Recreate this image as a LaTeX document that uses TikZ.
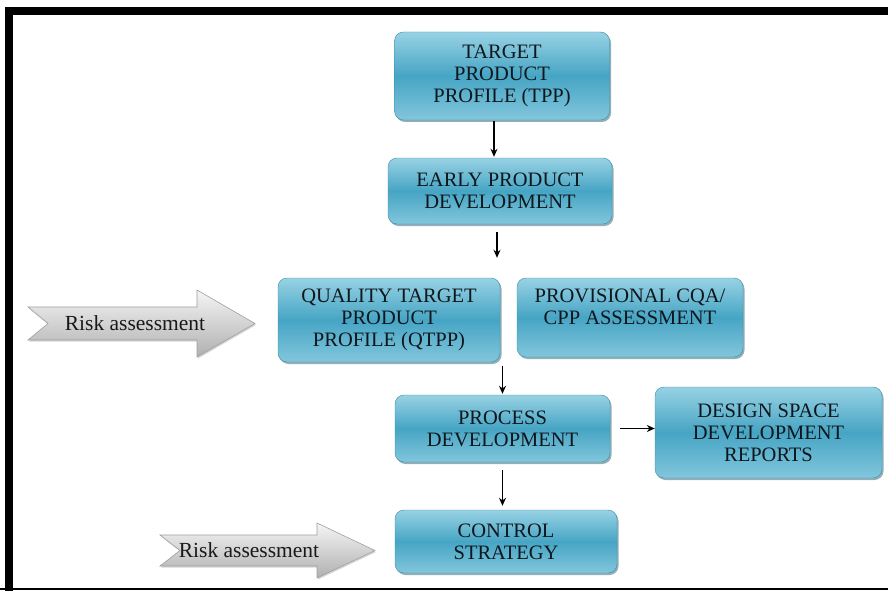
\documentclass[tikz,border=0pt]{standalone}
\usepackage{fontspec}
\setmainfont{Liberation Serif}
\usetikzlibrary{shapes,arrows.meta,positioning,shadows,calc}

\definecolor{boxtop}{RGB}{152,210,228}
\definecolor{boxmid}{RGB}{70,165,196}
\definecolor{boxbot}{RGB}{130,198,220}
\definecolor{boxedge}{RGB}{60,140,165}
\definecolor{boxshade}{RGB}{40,95,115}
\definecolor{boxtext}{RGB}{15,22,28}

\begin{document}
\begin{tikzpicture}[x=1pt,y=-1pt,
        block/.style={rectangle, draw=boxedge, rounded corners=9pt,
        top color=boxtop, bottom color=boxbot, middle color=boxmid,
        drop shadow={shadow xshift=1.5pt, shadow yshift=-2pt, fill=boxshade},
        inner sep=0pt, align=center, text=boxtext,
        font=\fontsize{20.5}{22}\selectfont},
        arrow/.style={-{Stealth[length=8pt,width=7pt]}, line width=1.3pt},
        riskshape/.style={draw=gray!75, line width=0.6pt,
        top color=gray!8, bottom color=gray!62,
        drop shadow={shadow xshift=1pt, shadow yshift=-1.5pt, fill=gray!65}},
        risktext/.style={font=\fontsize{21.5}{22}\selectfont, text=black!90}
    ]
        \useasboundingbox (0,0) rectangle (888,591);

% Frame
        \draw[line width=8pt] (9,591) -- (9,11) -- (888,11);
        \draw[line width=2pt] (0,589) -- (888,589);

% Main chain
        \node[block, minimum width=215pt, minimum height=88pt] (tpp) at (502,76)
        {TARGET\\ PRODUCT\\ PROFILE (TPP)};
        \node[block, minimum width=224pt, minimum height=66pt] (epd) at (500,191)
        {EARLY PRODUCT\\ DEVELOPMENT};
        \node[block, minimum width=222pt, minimum height=84pt] (qtpp) at (389,320)
        {QUALITY TARGET\\ PRODUCT\\ PROFILE (QTPP)};
        \node[block, minimum width=226pt, minimum height=79pt] (pcqa) at (630,317.5)
        {PROVISIONAL CQA/\\ CPP ASSESSMENT\\ \mbox{}};
        \node[block, minimum width=215pt, minimum height=67pt] (pd) at (502.5,428.5)
        {PROCESS\\ DEVELOPMENT};
        \node[block, minimum width=227pt, minimum height=91pt] (dsdr) at (768.5,432.5)
        {DESIGN SPACE\\ DEVELOPMENT\\ REPORTS};
        \node[block, minimum width=222pt, minimum height=63pt] (cs) at (506,541.5)
        {CONTROL\\ STRATEGY};

% Gap between the two boxes of the middle row
        \coordinate (rowtop) at ($(qtpp.north east)!.5!(pcqa.north west)$);
        \coordinate (rowbot) at ($(qtpp.south east)!.5!(pcqa.south west)$);

% Risk assessment arrows
        \draw[riskshape] (28,307) -- (197,307) -- (197,290) -- (255,323.5)
        -- (197,357) -- (197,340) -- (28,340) -- (48,323.5) -- cycle;
        \node[risktext] (risk1) at (135,323.5) {Risk assessment};
        \draw[riskshape] (160,535) -- (317,535) -- (317,523) -- (375,550.5)
        -- (317,578) -- (317,566) -- (160,566) -- (180,550.5) -- cycle;
        \node[risktext] (risk2) at (249,550.5) {Risk assessment};

% Arrows
        \draw[arrow, shorten <=1pt, shorten >=1pt] ([xshift=-8pt]tpp.south) -- ([xshift=-8pt]tpp.south |- epd.north);
        \draw[arrow, shorten <=8pt, shorten >=20pt] ([xshift=-3pt]epd.south) -- ([xshift=-3pt]epd.south |- rowtop);
        \draw[arrow, shorten <=6pt, shorten >=1pt] (rowbot -| pd.north) -- (pd.north);
        \draw[arrow, shorten <=10pt] (pd.east) -- (pd.east -| dsdr.west);
        \draw[arrow, shorten <=8pt, shorten >=4pt] (pd.south) -- (pd.south |- cs.north);

    \end{tikzpicture}
\end{document}
